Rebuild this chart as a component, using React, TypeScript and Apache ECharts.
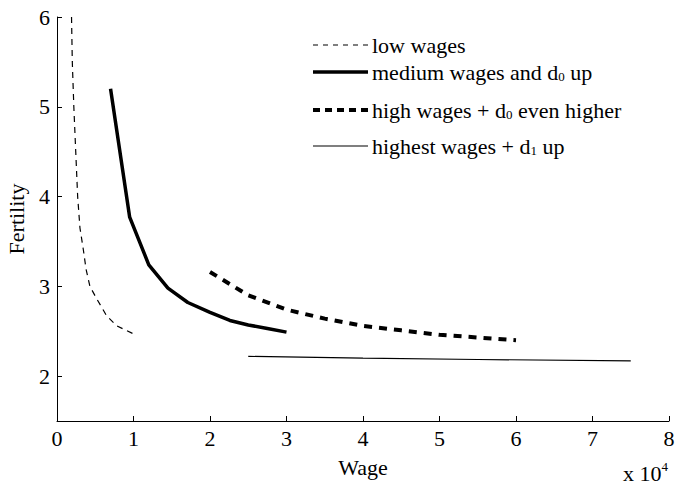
import React, { useEffect, useRef } from "react";
import * as echarts from "echarts";

const lowX = [0.19, 0.2, 0.22, 0.245, 0.27, 0.3, 0.344, 0.38, 0.43, 0.52, 0.65, 0.78, 1.0];
const lowY = [6.0, 5.5, 5.0, 4.5, 4.0, 3.65, 3.41, 3.19, 3.0, 2.86, 2.67, 2.56, 2.47];
const medX = [0.7, 0.95, 1.2, 1.45, 1.71, 2.0, 2.26, 2.5, 2.75, 3.0];
const medY = [5.2, 3.77, 3.24, 2.98, 2.82, 2.71, 2.62, 2.57, 2.53, 2.49];
const highX = [2, 2.5, 3, 3.5, 4, 4.5, 5, 5.5, 6];
const highY = [3.16, 2.9, 2.74, 2.64, 2.56, 2.51, 2.46, 2.43, 2.4];
const topX = [2.5, 4, 5.5, 7.5];
const topY = [2.22, 2.2, 2.185, 2.17];

const FONT = "Times New Roman, Liberation Serif, DejaVu Serif, serif";

const zip = (xs: number[], ys: number[]) => xs.map((x, i) => [x, ys[i]]);

export default function App() {
  const ref = useRef<HTMLDivElement>(null);
  useEffect(() => {
    if (!ref.current) return;
    const chart = echarts.init(ref.current, null, { renderer: "svg" });
    const txt = (main: string[], subs: string[]) => {
      let s = "";
      main.forEach((m, i) => {
        s += `{a|${m}}`;
        if (subs[i] !== undefined) s += `{s|${subs[i]}}`;
      });
      return s;
    };
    const rich = {
      a: { fontSize: 22, fontFamily: FONT, fill: "#000", lineHeight: 24, verticalAlign: "bottom" },
      s: { fontSize: 13, fontFamily: FONT, fill: "#000", lineHeight: 24, verticalAlign: "bottom" },
      p: { fontSize: 13, fontFamily: FONT, fill: "#000", lineHeight: 24, verticalAlign: "top" },
    };
    const legendRows = [
      { y: 45, dash: [5, 5], w: 1.2, text: txt(["low wages"], []) },
      { y: 72, dash: null, w: 3.5, text: txt(["medium wages and d", " up"], ["0"]) },
      { y: 110, dash: [7, 5], w: 4, text: txt(["high wages + d", " even higher"], ["0"]) },
      { y: 146, dash: null, w: 1.2, text: txt(["highest wages + d", " up"], ["1"]) },
    ];
    const graphics: any[] = [];
    legendRows.forEach((r) => {
      graphics.push({
        type: "line",
        shape: { x1: 313, y1: r.y, x2: 368, y2: r.y },
        style: { stroke: "#000", lineWidth: r.w, lineDash: r.dash || undefined },
      });
      graphics.push({
        type: "text",
        x: 372,
        y: r.y - 1,
        style: { text: r.text, rich, verticalAlign: "middle", align: "left", fontFamily: FONT, fontSize: 22 },
      });
    });
    graphics.push({
      type: "text",
      x: 623,
      y: 484,
      style: {
        text: "{a|x 10}{p|4}",
        rich,
        verticalAlign: "bottom",
        align: "left",
        fontFamily: FONT,
        fontSize: 22,
      },
    });

    const lineSeries = (name: string, data: number[][], width: number, type: any) => ({
      name,
      type: "line",
      data,
      showSymbol: false,
      symbol: "none",
      lineStyle: { color: "#000", width, type },
      itemStyle: { color: "#000" },
      z: 3,
    });

    chart.setOption({
      animation: false,
      backgroundColor: "#fff",
      textStyle: { fontFamily: FONT },
      grid: { left: 57, right: 6, top: 17, bottom: 64, containLabel: false, outerBoundsMode: "none" },
      xAxis: {
        type: "value",
        min: 0,
        max: 8,
        interval: 1,
        name: "Wage",
        nameLocation: "middle",
        nameGap: 35,
        nameTextStyle: { fontFamily: FONT, fontSize: 22, color: "#000" },
        axisLine: { show: true, lineStyle: { color: "#000", width: 1 } },
        axisTick: { show: true, inside: true, length: 5, lineStyle: { color: "#000" } },
        axisLabel: { fontFamily: FONT, fontSize: 22, color: "#000", margin: 6 },
        splitLine: { show: false },
      },
      yAxis: {
        type: "value",
        min: 1.5,
        max: 6,
        splitNumber: 4,
        name: "Fertility",
        nameLocation: "middle",
        nameGap: 30,
        nameRotate: 90,
        nameTextStyle: { fontFamily: FONT, fontSize: 22, color: "#000" },
        axisLine: { show: true, lineStyle: { color: "#000", width: 1 } },
        axisTick: { show: true, inside: true, length: 5, lineStyle: { color: "#000" } },
        axisLabel: {
          fontFamily: FONT,
          fontSize: 22,
          color: "#000",
          margin: 7,
          showMinLabel: false,
          formatter: (v: number) => (Number.isInteger(v) ? String(v) : ""),
        },
        splitLine: { show: false },
      },
      series: [
        lineSeries("low wages", zip(lowX, lowY), 1.2, [6, 5]),
        lineSeries("medium wages and d0 up", zip(medX, medY), 3.5, "solid"),
        lineSeries("high wages + d0 even higher", zip(highX, highY), 4, [8, 7]),
        lineSeries("highest wages + d1 up", zip(topX, topY), 1.2, "solid"),
      ],
      graphic: graphics,
    });
    return () => chart.dispose();
  }, []);
  return <div ref={ref} style={{ width: 675, height: 485, position: "absolute", left: 0, top: 0 }} />;
}
